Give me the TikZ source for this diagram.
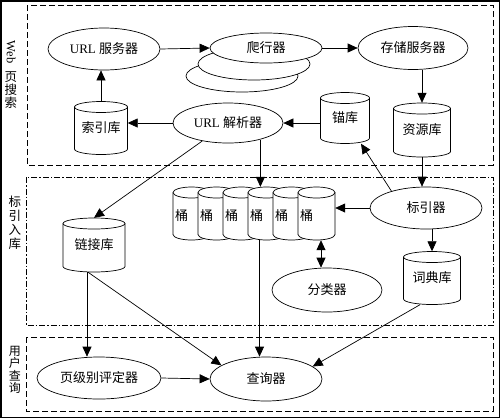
\documentclass[tikz,border=0pt]{standalone}
\usepackage{graphicx}
\usepackage{fontspec}
\setmainfont{Liberation Serif}
\newfontfamily\cjk{Noto Sans CJK SC}
\usetikzlibrary{arrows.meta,shapes.geometric}
\newcommand\cylinderat[6]{%
  \pgfmathsetmacro\cylL{#2-#4/2}\pgfmathsetmacro\cylR{#2+#4/2}%
  \pgfmathsetmacro\cylT{-(#3)+#5/2-5.5}\pgfmathsetmacro\cylB{-(#3)-#5/2+5.5}%
  \filldraw[cylline] (\cylL,\cylT) -- (\cylL,\cylB) arc[start angle=180,end angle=360,x radius=#4/2,y radius=5.5] -- (\cylR,\cylT) arc[start angle=0,end angle=180,x radius=#4/2,y radius=5.5] -- cycle;
  \draw[line width=0.7pt] (\cylL,\cylT) arc[start angle=180,end angle=360,x radius=#4/2,y radius=5.5];
  \node[inner sep=0pt, minimum width=#4pt, minimum height=#5pt] (#1) at (#2,-#3) {#6};
}
\begin{document}
\begin{tikzpicture}[x=1pt,y=1pt,
  every node/.style={font=\fontsize{13}{15}\selectfont},
  ell/.style={draw, ellipse, fill=white, inner sep=0pt, line width=0.7pt},
  arr/.style={-{Triangle[length=10pt,width=9pt]}, line width=0.7pt},
  darr/.style={{Triangle[length=10pt,width=9pt]}-{Triangle[length=10pt,width=9pt]}, line width=0.7pt},
  cylline/.style={line width=0.7pt, fill=white},
  boxdash/.style={dash pattern=on 6pt off 3pt, line width=0.7pt},
  boxdashdot/.style={dash pattern=on 6pt off 2pt on 1.5pt off 2pt, line width=0.7pt},
  side/.style={align=center, inner sep=0pt, anchor=north}
]
\useasboundingbox (0,0) rectangle (500,-418);
\fill[white] (0,0) rectangle (500,-418);
\draw[line width=1.5pt] (0.75,-0.75) rectangle (499.25,-417.25);

% group boxes
\draw[boxdash] (27,-5) rectangle (493,-165);
\draw[boxdashdot] (26,-177) rectangle (493,-325);
\draw[boxdash] (26,-337) rectangle (493,-411);

% side labels
\node[inner sep=0pt, rotate=-90, font=\fontsize{12.5}{14}\selectfont] (webw) at (11,-52) {Web};
\node[side, font=\fontsize{12.5}{13}\selectfont\cjk] (webc) at (11,-71) {页\\搜\\索};
\node[side, font=\fontsize{12.5}{14}\selectfont\cjk] (labidx) at (15,-196) {标\\引\\入\\库};
\node[side, font=\fontsize{12}{12.5}\selectfont\cjk] (labqry) at (15,-346) {用\\户\\查\\询};

% ellipses
\node[ell, minimum width=112pt, minimum height=42pt] (urls) at (104,-49) {URL {\cjk 服务器}};
\node[ell, minimum width=112pt, minimum height=32pt] (crawlc) at (242,-76) {};
\node[ell, minimum width=112pt, minimum height=32pt] (crawlb) at (254,-64) {};
\node[ell, minimum width=112pt, minimum height=30pt] (crawl) at (266,-48) {\cjk 爬行器};
\node[ell, minimum width=110pt, minimum height=43pt] (store) at (413,-48) {\cjk 存储服务器};
\node[ell, minimum width=110pt, minimum height=40pt] (urlp) at (228,-123) {URL {\cjk 解析器}};
\node[ell, minimum width=112pt, minimum height=42pt] (idx) at (426,-208) {\cjk 标引器};
\node[ell, minimum width=110pt, minimum height=44pt] (cls) at (327,-290) {\cjk 分类器};
\node[ell, minimum width=124pt, minimum height=42pt] (rank) at (99,-378) {\cjk 页级别评定器};
\node[ell, minimum width=112pt, minimum height=44pt] (qry) at (266,-379) {\cjk 查询器};

% cylinders
\cylinderat{res}{422}{130}{57}{54}{\cjk 资源库}
\cylinderat{anc}{345}{118}{49}{51}{\cjk 锚库}
\cylinderat{idxdb}{101}{128}{53}{53}{\cjk 索引库}
\cylinderat{link}{94}{245}{62}{54}{\cjk 链接库}
\cylinderat{dict}{432}{278}{57}{53}{\cjk 词典库}

% buckets
\cylinderat{b1}{191.5}{213.5}{37}{53}{}
\node (bt1) at (181.5,-216) {\cjk 桶};
\cylinderat{b2}{216.5}{213.5}{37}{53}{}
\node (bt2) at (206.5,-216) {\cjk 桶};
\cylinderat{b3}{241.5}{213.5}{37}{53}{}
\node (bt3) at (231.5,-216) {\cjk 桶};
\cylinderat{b4}{266.5}{213.5}{37}{53}{}
\node (bt4) at (256.5,-216) {\cjk 桶};
\cylinderat{b5}{291.5}{213.5}{37}{53}{}
\node (bt5) at (281.5,-216) {\cjk 桶};
\cylinderat{b6}{316.5}{213.5}{37}{53}{}
\node (bt6) at (306.5,-216) {\cjk 桶};

% connectors
\draw[arr] (urls.east) -- (crawl.west);
\draw[arr] (crawl.east) -- (store.west);
\draw[arr] (store.south -| res.north) -- (res.north);
\draw[arr] (res.south) -- (res.south |- idx.north);
\draw[arr] (idx.154) -- ([xshift=16pt]anc.south);
\draw[arr] (urlp.east -| anc.west) -- (urlp.east);
\draw[arr] (urlp.west) -- (urlp.west -| idxdb.east);
\draw[arr] (idxdb.north) -- (idxdb.north |- urls.south);
\draw[arr] (urlp.215) -- (link.north);
\draw[arr] (urlp.333) -- (urlp.333 |- b4.north);
\draw[arr] (idx.west) -- (idx.west -| b6.east);
\draw[darr] ([xshift=4.5pt]b6.south) -- ([xshift=4.5pt]b6.south |- cls.north);
\draw[arr] (idx.south -| dict.north) -- (dict.north);
\draw[arr] ([xshift=-7pt]link.south) -- ([xshift=-7pt]link.south |- rank.north);
\draw[arr] ([xshift=-6pt]link.south) -- (qry.163);
\draw[arr] ([xshift=-7pt]b4.south) -- ([xshift=-7pt]b4.south |- qry.north);
\draw[arr] ([xshift=-12pt]dict.south) -- (qry.15);
\draw[arr] (rank.east) -- (qry.west);
\end{tikzpicture}
\end{document}
